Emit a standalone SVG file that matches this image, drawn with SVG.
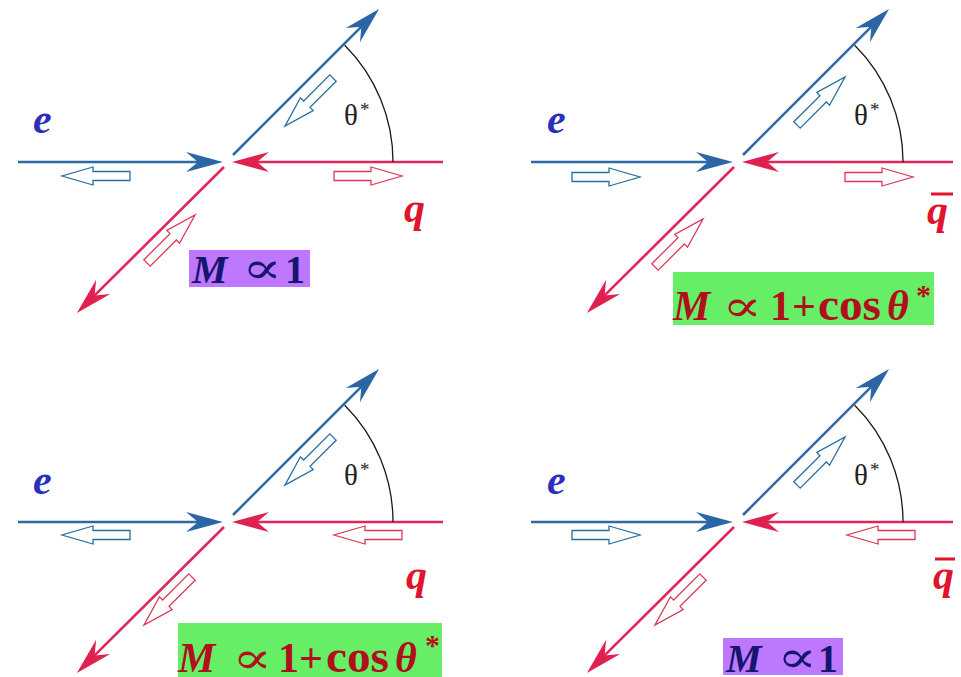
<svg xmlns="http://www.w3.org/2000/svg" width="961" height="677" viewBox="0 0 961 677">
<style>
.lb{fill:none;stroke:#2d6aa6;stroke-width:2.6}
.lr{fill:none;stroke:#e0265a;stroke-width:2.6}
.arc{fill:none;stroke:#1a1a1a;stroke-width:1.3}
.hb{fill:#fff;stroke:#2a6fa0;stroke-width:1.3}
.hr{fill:#fff;stroke:#dc3a5a;stroke-width:1.3}
.th{font-family:"Liberation Serif",serif;font-size:29px;fill:#222}
.st{font-family:"Liberation Serif",serif;font-size:19px;fill:#222}
.e{font-family:"Liberation Serif",serif;font-style:italic;font-weight:bold;font-size:42px;fill:#2b2fc0}
.q{font-family:"Liberation Serif",serif;font-style:italic;font-weight:bold;font-size:42px;fill:#e0142c}
.bar{fill:#e0142c}
.boxP{fill:#bd78ff}
.boxG{fill:#66ef66}
.tP{font-family:"Liberation Serif",serif;font-weight:bold;font-size:40px;fill:#16166e}
.tG{font-family:"Liberation Serif",serif;font-weight:bold;font-size:42px;fill:#b0101c}
.it{font-style:italic}
.pr{font-family:"DejaVu Serif",serif;font-weight:normal;font-size:44px}
.cs{font-size:47px}
</style>
<defs>
<marker id="mb" markerUnits="userSpaceOnUse" orient="auto" viewBox="-60 -12 62 24" markerWidth="62" markerHeight="24" refX="-20" refY="0">
<path d="M0,0 L-37,-10 L-25,0 L-37,10 Z" fill="#2a66a6"/>
</marker>
<marker id="mr" markerUnits="userSpaceOnUse" orient="auto" viewBox="-60 -12 62 24" markerWidth="62" markerHeight="24" refX="-20" refY="0">
<path d="M0,0 L-37,-10 L-25,0 L-37,10 Z" fill="#e0204f"/>
</marker>
<path id="ha" d="M0,-4.5 H37 V-9 L68,0 L37,9 V4.5 H0 Z"/>
</defs>
<rect width="961" height="677" fill="#fff"/>

<g id="panel1">
<g id="connectors1">
<path class="lb" d="M18,162 H203" marker-end="url(#mb)"/>
<path class="lr" d="M443,162 H252" marker-end="url(#mr)"/>
<path class="lb" d="M233,155 L364.9,23.1" marker-end="url(#mb)"/>
<path class="lr" d="M224,167 L91.1,298.9" marker-end="url(#mr)"/>
<path class="arc" d="M393,162 A165,165 0 0 0 344.7,45.3"/>
<use href="#ha" class="hb" transform="translate(130,176) rotate(180)"/>
<use href="#ha" class="hr" transform="translate(334,176)"/>
<use href="#ha" class="hb" transform="translate(333,78) rotate(135)"/>
<use href="#ha" class="hr" transform="translate(147,263) rotate(-45)"/>
</g>
<text class="e" x="33" y="133">e</text>
<text class="q" x="404" y="222">q</text>
<text class="th" x="344" y="125">θ</text><text class="st" x="360" y="116">*</text>
</g>
<g id="label1">
<rect class="boxP" x="189" y="250" width="121" height="37"/>
<text class="tP" y="283"><tspan class="it" x="192">M</tspan><tspan x="285">1</tspan></text>
<text class="tP pr" transform="translate(242,283) scale(1.35,1)">∝</text>
</g>

<g id="panel2" transform="translate(510,0)">
<g id="connectors2">
<path class="lb" d="M21,162 H203" marker-end="url(#mb)"/>
<path class="lr" d="M443,162 H252" marker-end="url(#mr)"/>
<path class="lb" d="M233,155 L364.9,23.1" marker-end="url(#mb)"/>
<path class="lr" d="M224,167 L91.1,298.9" marker-end="url(#mr)"/>
<path class="arc" d="M393,162 A165,165 0 0 0 344.7,45.3"/>
<use href="#ha" class="hb" transform="translate(62,177)"/>
<use href="#ha" class="hr" transform="translate(335,177)"/>
<use href="#ha" class="hb" transform="translate(287,125) rotate(-45)"/>
<use href="#ha" class="hr" transform="translate(145,267) rotate(-45)"/>
</g>
<text class="e" x="37" y="133">e</text>
<text class="q" x="417" y="224">q</text>
<rect class="bar" x="421" y="192.5" width="22" height="3"/>
<text class="th" x="344" y="125">θ</text><text class="st" x="360" y="116">*</text>
</g>
<g id="label2">
<rect class="boxG" x="673" y="272" width="261" height="53"/>
<text class="tG" y="320"><tspan class="it" x="673">M</tspan><tspan x="770">1</tspan><tspan x="792">+</tspan><tspan class="cs" x="818" textLength="63" lengthAdjust="spacingAndGlyphs">cos</tspan><tspan class="it" x="887">θ</tspan></text>
<text class="tG pr" transform="translate(722,321) scale(1.35,1)">∝</text>
<text class="tG" x="916" y="305" style="font-size:30px">*</text>
</g>

<g id="panel3" transform="translate(0,360)">
<g id="connectors3">
<path class="lb" d="M18,162 H203" marker-end="url(#mb)"/>
<path class="lr" d="M443,162 H252" marker-end="url(#mr)"/>
<path class="lb" d="M233,155 L364.9,23.1" marker-end="url(#mb)"/>
<path class="lr" d="M224,167 L91.1,298.9" marker-end="url(#mr)"/>
<path class="arc" d="M393,162 A165,165 0 0 0 344.7,45.3"/>
<use href="#ha" class="hb" transform="translate(130,175) rotate(180)"/>
<use href="#ha" class="hr" transform="translate(402,175) rotate(180)"/>
<use href="#ha" class="hb" transform="translate(333,77) rotate(135)"/>
<use href="#ha" class="hr" transform="translate(192,217) rotate(135)"/>
</g>
<text class="e" x="33" y="134">e</text>
<text class="q" x="406" y="229">q</text>
<text class="th" x="344" y="125">θ</text><text class="st" x="360" y="116">*</text>
</g>
<g id="label3">
<rect class="boxG" x="178" y="623" width="264" height="54"/>
<text class="tG" y="672"><tspan class="it" x="178">M</tspan><tspan x="278">1</tspan><tspan x="299">+</tspan><tspan class="cs" x="326" textLength="63" lengthAdjust="spacingAndGlyphs">cos</tspan><tspan class="it" x="395">θ</tspan></text>
<text class="tG pr" transform="translate(232,673) scale(1.35,1)">∝</text>
<text class="tG" x="425" y="655" style="font-size:30px">*</text>
</g>

<g id="panel4" transform="translate(510,360)">
<g id="connectors4">
<path class="lb" d="M21,162 H203" marker-end="url(#mb)"/>
<path class="lr" d="M443,162 H252" marker-end="url(#mr)"/>
<path class="lb" d="M233,155 L364.9,23.1" marker-end="url(#mb)"/>
<path class="lr" d="M224,167 L91.1,298.9" marker-end="url(#mr)"/>
<path class="arc" d="M393,162 A165,165 0 0 0 344.7,45.3"/>
<use href="#ha" class="hb" transform="translate(62,175)"/>
<use href="#ha" class="hr" transform="translate(405,175) rotate(180)"/>
<use href="#ha" class="hb" transform="translate(287,125) rotate(-45)"/>
<use href="#ha" class="hr" transform="translate(193,217) rotate(135)"/>
</g>
<text class="e" x="37" y="134">e</text>
<text class="q" x="423" y="229">q</text>
<rect class="bar" x="425" y="197.5" width="20" height="3"/>
<text class="th" x="344" y="125">θ</text><text class="st" x="360" y="116">*</text>
</g>
<g id="label4">
<rect class="boxP" x="723" y="638" width="120" height="37"/>
<text class="tP" y="672"><tspan class="it" x="726">M</tspan><tspan x="818">1</tspan></text>
<text class="tP pr" transform="translate(777,672) scale(1.35,1)">∝</text>
</g>
</svg>
